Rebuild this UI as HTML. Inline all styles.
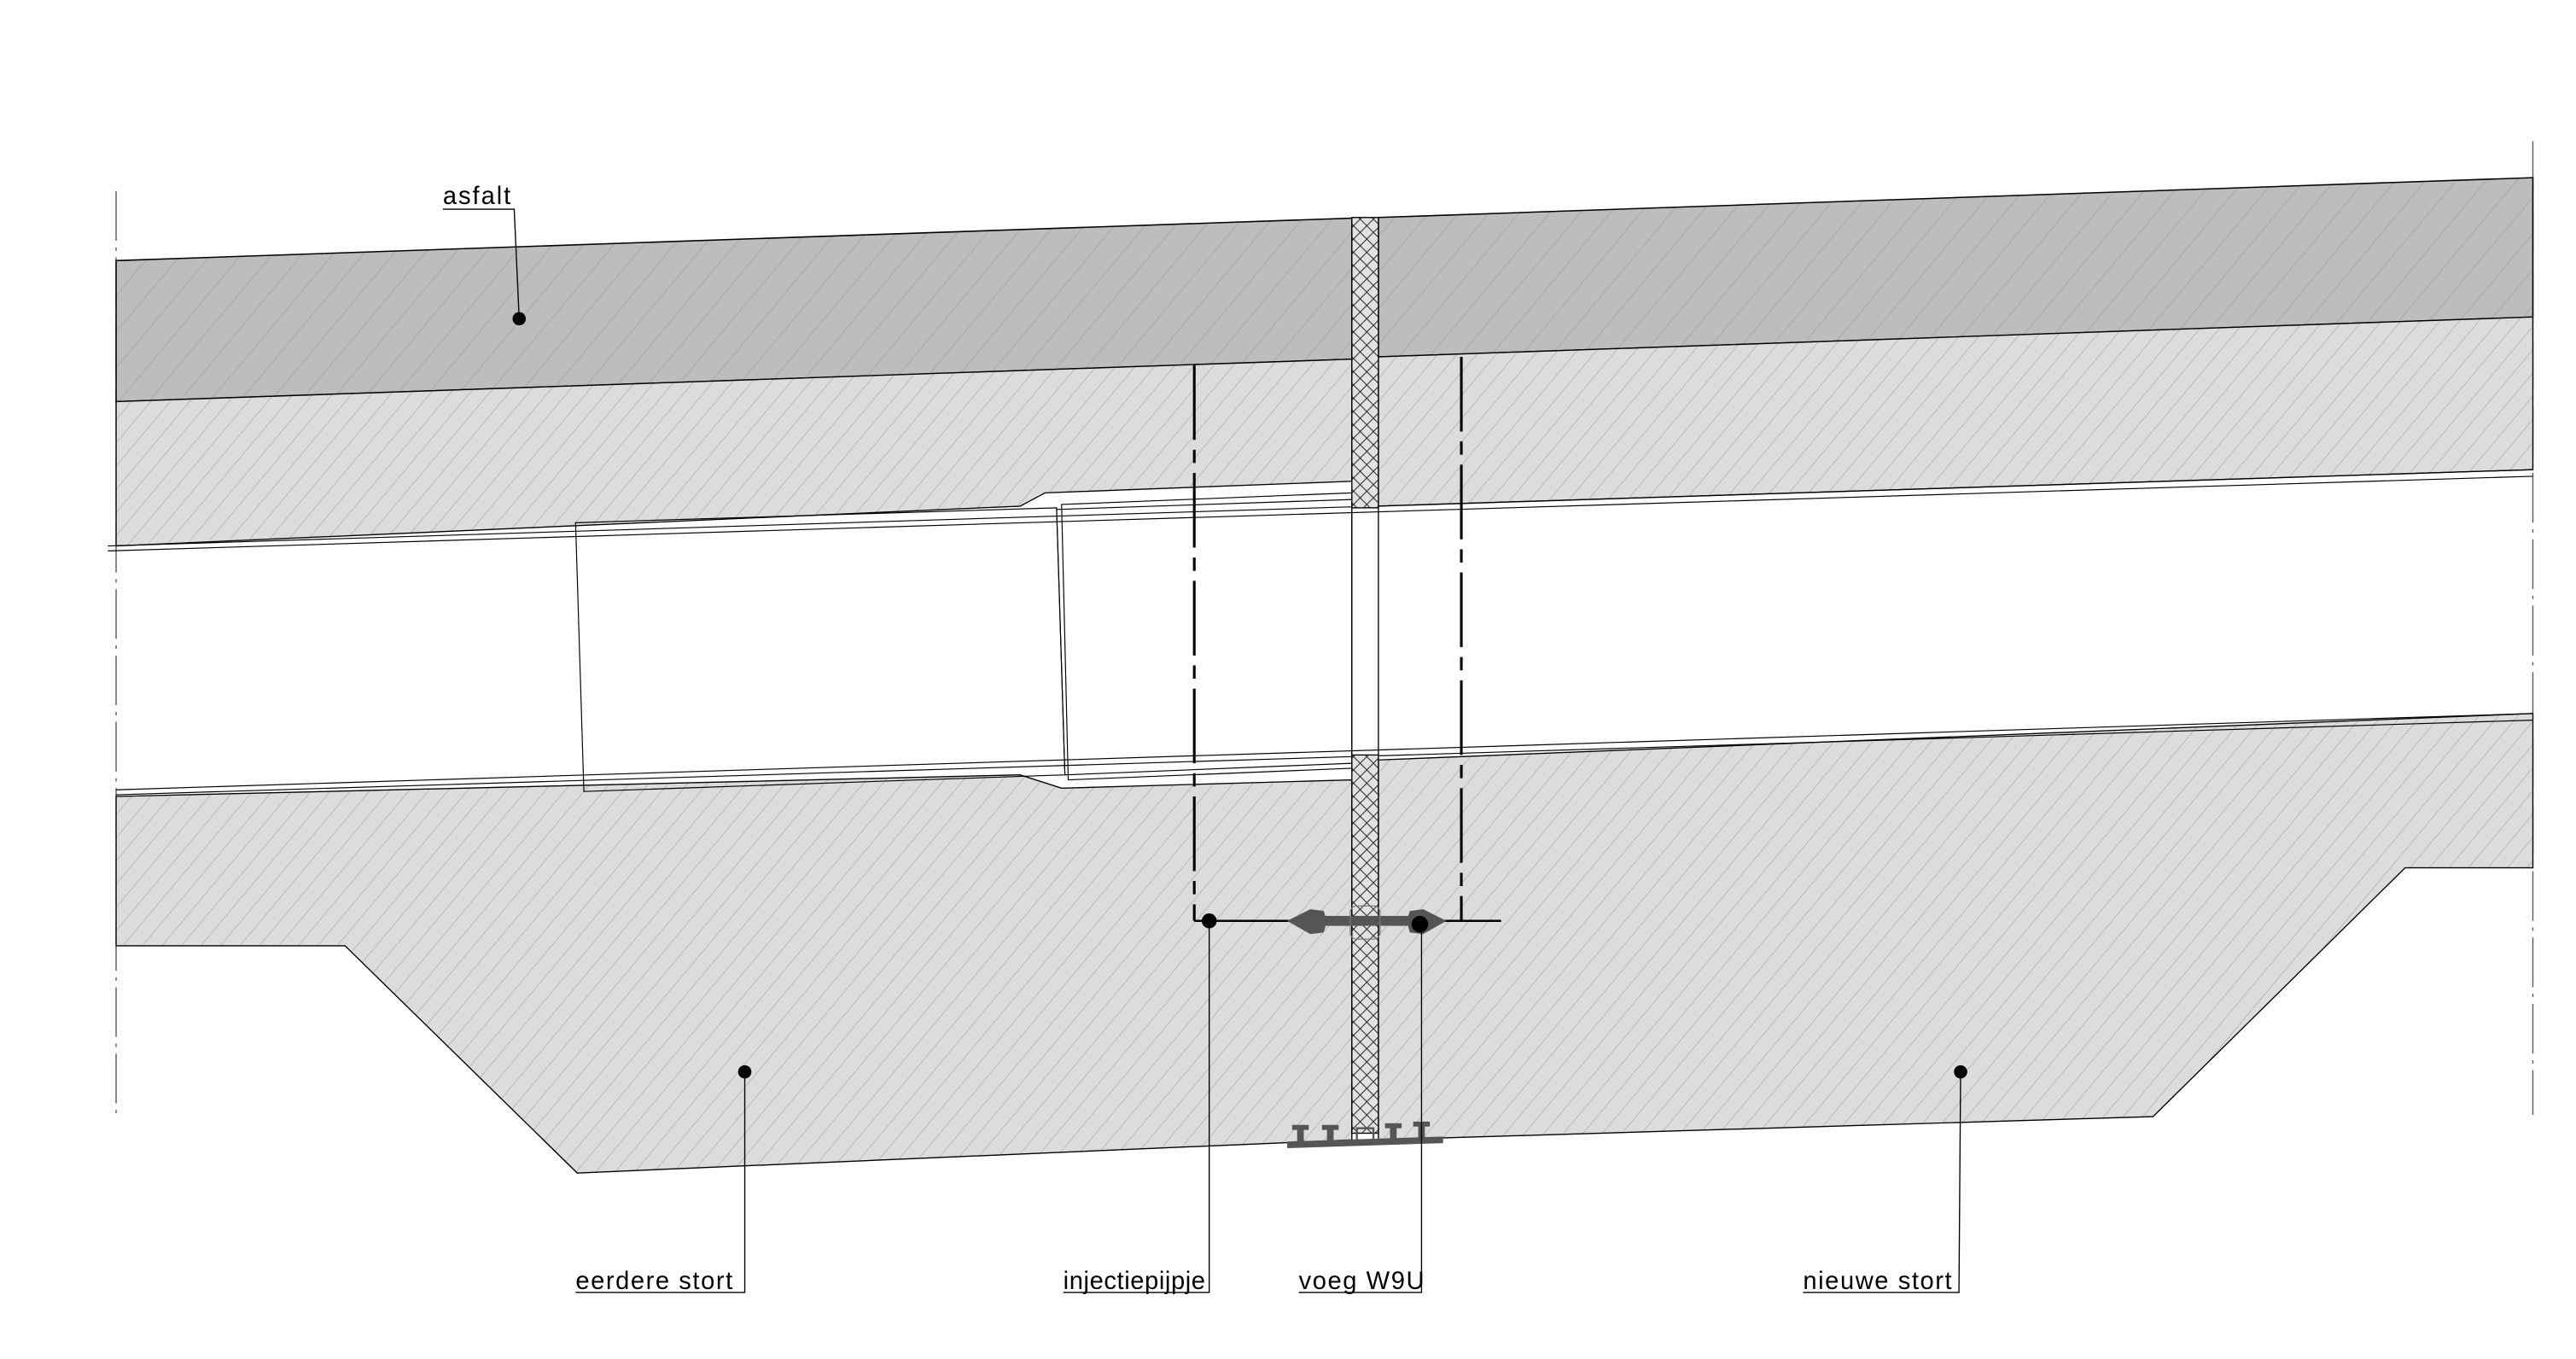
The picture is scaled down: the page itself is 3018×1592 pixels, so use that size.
<!DOCTYPE html>
<html><head><meta charset="utf-8"><style>
html,body{margin:0;padding:0;background:#fff;}
svg{display:block;}
text{font-family:"Liberation Sans Narrow","Liberation Sans",sans-serif;font-size:15px;fill:#000;}
</style></head><body>
<svg width="3018" height="1592" viewBox="0 0 1553 819" xmlns="http://www.w3.org/2000/svg">
<defs>
<pattern id="ha" patternUnits="userSpaceOnUse" width="14" height="14" patternTransform="rotate(40)">
<rect width="14" height="14" fill="#bdbdbd"/><line x1="0" y1="0" x2="0" y2="14" stroke="#9a9a9a" stroke-width="0.6"/>
</pattern>
<pattern id="hc" patternUnits="userSpaceOnUse" width="9" height="9" patternTransform="rotate(40)">
<rect width="9" height="9" fill="#dcdcdc"/><line x1="0" y1="0" x2="0" y2="9" stroke="#a0a0a0" stroke-width="0.6"/>
</pattern>
<pattern id="hx" patternUnits="userSpaceOnUse" width="8" height="8">
<rect width="8" height="8" fill="#e2e2e2"/><path d="M0 0L8 8M8 0L0 8" stroke="#222" stroke-width="0.5"/>
</pattern>
</defs>

<!-- axis lines -->
<line x1="70" y1="115" x2="70" y2="672" stroke="#555" stroke-width="0.7" stroke-dasharray="30 4 2 4"/>
<line x1="1527" y1="85" x2="1527" y2="672" stroke="#555" stroke-width="0.7" stroke-dasharray="30 4 2 4"/>

<!-- asphalt -->
<polygon points="70,157 815,131.4 815,216.4 70,242" fill="url(#ha)" stroke="#000" stroke-width="0.8"/>
<polygon points="831,131 1527,107 1527,191 831,215" fill="url(#ha)" stroke="#000" stroke-width="0.8"/>

<!-- upper concrete -->
<polygon points="70,242 815,216.4 815,290 630,297 615,305 70,329" fill="url(#hc)" stroke="#000" stroke-width="0.7"/>
<polygon points="831,215 1527,191 1527,283 831,305" fill="url(#hc)" stroke="#000" stroke-width="0.7"/>

<!-- lower slab -->
<polygon points="70,480 615,467 640,475 815,470 815,687 348,707 208,570 70,570" fill="url(#hc)" stroke="#000" stroke-width="0.7"/>
<polygon points="831,458 1527,430 1527,523 1450,523 1298,673 831,687" fill="url(#hc)" stroke="#000" stroke-width="0.7"/>

<!-- thin double lines in void -->
<g stroke="#000" stroke-width="0.6" fill="none">
<line x1="65" y1="329" x2="1527" y2="283"/>
<line x1="65" y1="332" x2="1527" y2="287"/>
<line x1="70" y1="476" x2="1527" y2="430"/>
<line x1="70" y1="479" x2="1527" y2="434"/>
<polygon points="347,315 637,306 642,467 352,477"/>
<polygon points="637,307 815,301 815,460 642,467"/>
<polygon points="640,304 815,297 815,463 644,470"/>
</g>

<!-- joint filler -->
<rect x="815" y="131" width="16" height="175" fill="url(#hx)" stroke="#000" stroke-width="0.7"/>
<rect x="815" y="455" width="16" height="228" fill="url(#hx)" stroke="#000" stroke-width="0.7"/>
<line x1="815" y1="306" x2="815" y2="455" stroke="#000" stroke-width="0.7"/>
<line x1="831" y1="306" x2="831" y2="455" stroke="#000" stroke-width="0.7"/>

<!-- injection dashed lines -->
<g stroke="#000" stroke-width="1.6" fill="none">
<line x1="720" y1="220" x2="720" y2="555" stroke-dasharray="45 6 8 6"/>
<line x1="881" y1="215" x2="881" y2="555" stroke-dasharray="45 6 8 6"/>
<line x1="720" y1="555" x2="905" y2="555" stroke-width="1.3"/>
</g>
<!-- injection hose -->
<rect x="790" y="552" width="70" height="6" fill="#555"/>
<path d="M776,555 L790,548 L798,549 L800,555 L798,562 L790,563 Z" fill="#555"/>
<path d="M872,555 L858,548 L850,549 L848,555 L850,562 L858,563 Z" fill="#555"/>
<rect x="814" y="546" width="18" height="20" rx="4" fill="none" stroke="#777" stroke-width="0.6"/>
<circle cx="729" cy="555" r="4.5" fill="#000"/>
<circle cx="856" cy="557" r="5" fill="#000"/>

<!-- waterstop -->
<g fill="#555">
<polygon points="776,688 870,685 870,689 776,692"/>
<rect x="782" y="680" width="4" height="9"/><rect x="779" y="678" width="10" height="3"/>
<rect x="800" y="680" width="4" height="8"/><rect x="797" y="678" width="10" height="3"/>
<rect x="838" y="679" width="4" height="8"/><rect x="835" y="677" width="10" height="3"/>
<rect x="855" y="678" width="4" height="8"/><rect x="852" y="676" width="10" height="3"/>
<rect x="818" y="680" width="10" height="8" fill="none" stroke="#555" stroke-width="1.2"/>
</g>

<!-- leaders -->
<g stroke="#000" stroke-width="0.7" fill="none">
<polyline points="267,126 310,126 313,192"/>
<polyline points="347,779 449,779 449,646"/>
<polyline points="641,779 729,779 729,555"/>
<polyline points="783,779 857,779 857,557"/>
<polyline points="1087,779 1181,779 1182,646"/>
</g>
<circle cx="313" cy="192" r="4" fill="#000"/>
<circle cx="449" cy="646" r="4" fill="#000"/>
<circle cx="1182" cy="646" r="4" fill="#000"/>

<text x="267" y="123" letter-spacing="1">asfalt</text>
<text x="347" y="777" letter-spacing="0.8">eerdere stort</text>
<text x="641" y="777" letter-spacing="0.3">injectiepijpje</text>
<text x="783" y="777" letter-spacing="0.8">voeg W9U</text>
<text x="1087" y="777" letter-spacing="0.8">nieuwe stort</text>
</svg>
</body></html>
